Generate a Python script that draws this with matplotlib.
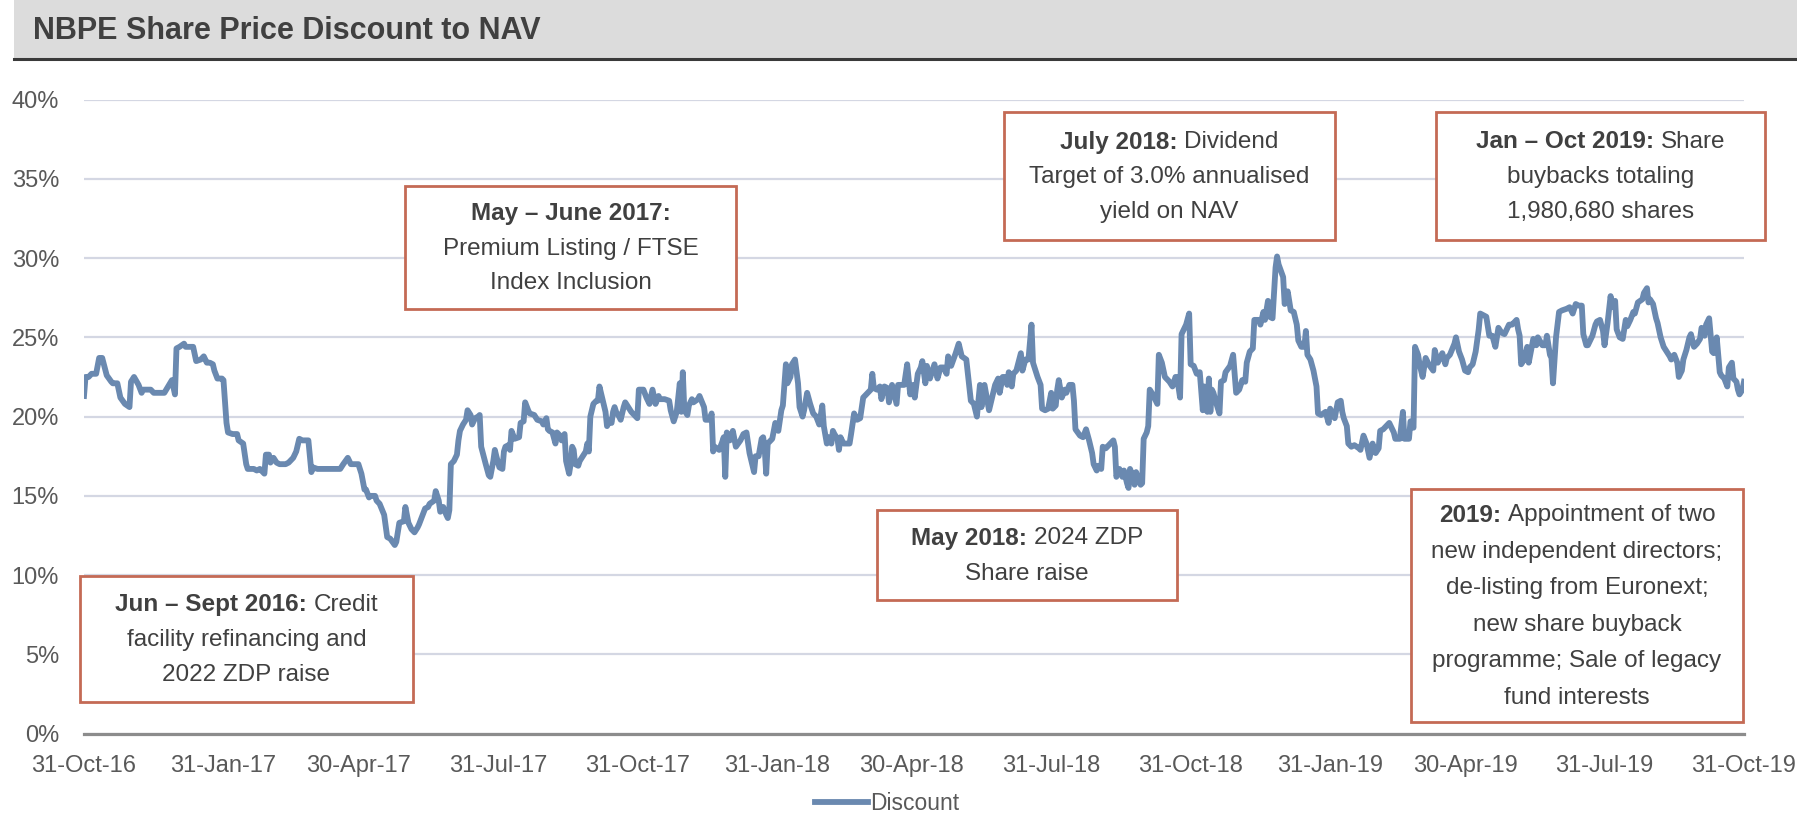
import numpy as np
import pandas as pd
import matplotlib
matplotlib.use("Agg")
import matplotlib.pyplot as plt
import matplotlib.dates as mdates
from matplotlib.patches import Rectangle
from matplotlib.lines import Line2D
from matplotlib.ticker import FuncFormatter, MultipleLocator

# ── Figure geometry (pixels of the output image) ──────────────────────────────
W, H, DPI = 1797, 814, 100
plt.rcParams["font.family"] = ["Liberation Sans", "DejaVu Sans"]

LINE_C = "#6A89B0"
BOX_C  = "#C46A55"
GRID_C = "#D4D7E3"
TXT_C  = "#404040"
TICK_C = "#595959"

# ── Data: (days since 31-Oct-2016, discount %) ─────────────────────────────────
START = pd.Timestamp("2016-10-31")

seg_a = [(0,21.3),(1,22.5),(3,22.5),(5,22.7),(8,22.7),(10,23.7),(12,23.7),(15,22.6),(18,22.2),(19,22.1),
         (22,22.1),(24,21.2),(27,20.8),(30,20.6),(31,22.2),(33,22.5),(36,22.0),(38,21.5),(39,21.7),(44,21.7),
         (46,21.5),(53,21.5),(58,22.3),(60,21.4),(61,24.3),(63,24.4),(66,24.6),(67,24.4),(72,24.4),(74,23.5),
         (77,23.6),(79,23.8),(81,23.4),(83,23.4),(85,23.3),(86,22.9),(88,22.4),(91,22.4),(92,22.3),(94,19.6),
         (95,19.0),(98,18.9),(101,18.9),(102,18.5),(105,18.3),(107,17.0),(108,16.7),(112,16.7),(114,16.6),(116,16.7),
         (118,16.5),(119,16.4),(120,17.6),(122,17.6),(123,17.1),(125,17.4),(127,17.1),(129,17.0),(133,17.0),(135,17.1),
         (138,17.4),(140,17.8),(142,18.6),(144,18.5),(148,18.5),(150,16.5),(151,16.8),(154,16.7),(156,16.7),(169,16.7),
         (171,17.0),(174,17.4),(176,17.0),(181,17.0),(183,16.4)]

seg_b = [(185,15.4),(186,15.4),(188,14.9),(189,15.0),(192,15.0),(193,14.7),(195,14.5),(198,13.8),(200,12.4),(202,12.3),
         (205,11.9),(206,12.1),(208,13.3),(211,13.4),(212,14.3),(214,13.3),(216,12.9),(218,12.7),(220,13.0),(221,13.2),
         (223,13.7),(225,14.2),(227,14.3),(228,14.5),(231,14.7),(232,15.3),(234,14.7),(235,14.0),(237,14.3),(239,13.8),
         (240,13.6),(241,14.1),(242,17.0),(244,17.2),(246,17.6),(247,18.5),(248,19.1),(250,19.5),(252,19.8),(253,20.4),
         (255,20.1),(256,19.5),(258,19.9),(260,20.0),(261,20.1),(262,18.1),(265,17.0),(267,16.3),(268,16.2),(270,17.2),
         (271,17.9),(272,17.5),(274,16.8),(276,16.7),(277,17.8),(278,18.1),(280,18.2),(281,17.9),(282,19.1),(284,18.6),
         (287,18.7),(288,19.6),(290,19.7),(291,20.9),(293,20.4),(294,20.2),(297,20.1),(299,19.8),(302,19.7),(303,19.5),
         (305,19.9),(306,19.2),(307,19.1),(309,19.0),(311,18.3),(312,19.0),(314,18.8),(315,18.5),(317,18.9),(318,17.2),
         (320,16.4),(321,17.0),(322,18.1),(323,17.9),(324,17.0),(326,16.9),(327,17.2),(329,17.5),(331,17.8),(332,18.3),
         (333,17.8),(334,20.0),(336,20.8),(338,21.0),(339,21.0),(340,21.9),(342,21.1),(344,20.3),(345,19.4),(347,19.8),
         (348,19.6),(349,20.3),(350,20.6),(351,20.3),(353,20.0),(354,19.8),(356,20.6),(357,20.9),(359,20.6),(361,20.3),
         (362,20.2),(365,19.9),(366,21.7)]

seg_c = [(369,21.7),(371,21.2),(373,20.8),(375,21.7),(377,20.8),(379,21.3),(380,21.1),(383,21.1),(386,21.0),(387,20.4),
         (389,19.7),(391,20.3),(393,22.1),(394,20.3),(395,22.8),(396,20.4),(398,20.1),(399,20.7),(401,21.1),(402,20.9),
         (405,21.1),(406,21.3),(409,20.6),(410,19.8),(413,19.8),(414,20.2),(415,17.8),(416,18.1),(419,17.9),(421,18.4),
         (422,18.7),(423,16.2),(424,19.0),(426,18.5),(428,19.1),(430,18.1),(433,18.5),(435,18.9),(437,19.0),(439,17.7),
         (442,16.5),(443,17.5),(445,17.5),(447,18.6),(448,18.7),(449,18.0),(450,16.4),(451,18.3),(454,18.6),(456,19.6),
         (458,19.1),(460,20.4),(461,20.7),(463,23.3),(464,22.1),(466,22.5),(467,23.3),(469,23.6),(471,22.1),(472,20.6),
         (474,20.0),(475,20.4),(477,21.5),(479,20.8),(481,20.2),(483,20.0),(485,19.5),(487,20.7),(488,19.4),(490,18.3),
         (491,18.7),(493,18.3),(494,19.1),(495,18.9),(497,18.6),(498,17.9),(499,18.7),(501,18.3),(503,18.3),(505,18.3),
         (506,18.9),(508,20.2),(510,19.8),(512,19.9),(514,21.2),(516,21.4),(519,21.7),(520,22.7),(521,21.8),(523,21.7),
         (525,21.9),(526,21.1),(528,21.9),(530,21.8),(531,20.9),(533,22.0),(536,20.8),(537,22.0),(541,22.0),(543,23.3),
         (545,21.4),(547,22.0),(548,21.2),(550,22.7),(552,23.1)]

seg_d = [(553,23.5),(555,22.1),(556,23.2),(558,22.4),(561,23.3),(563,22.4),(565,23.1),(567,23.1),(569,22.7),(570,23.8),
         (572,23.2),(575,24.0),(577,24.6),(579,23.8),(582,23.6),(585,21.0),(587,20.8),(589,20.0),(591,22.0),(592,20.6),
         (594,22.0),(597,20.4),(599,21.2),(601,22.0),(603,22.4),(604,21.5),(606,22.5),(608,22.5),(609,22.0),(610,22.8),
         (612,21.9),(613,22.7),(615,22.9),(618,24.0),(619,22.9),(621,23.6),(623,23.6),(625,25.8),(626,23.4),(629,22.5),
         (631,22.0),(632,20.5),(634,20.4),(636,20.5),(638,21.5),(639,20.5),(641,20.7),(642,21.7),(643,22.3),(645,21.2),
         (647,21.7),(648,21.5),(650,22.0),(652,22.0),(653,21.0),(654,19.2),(657,18.8),(659,18.7),(661,19.2),(663,18.5),
         (665,17.7),(666,17.0),(668,16.6),(669,16.9),(671,16.7),(672,18.1),(674,18.0),(675,18.1),(677,18.3),(679,18.5),
         (680,18.1),(681,16.2),(683,16.7),(685,16.2),(686,16.6),(688,15.8),(689,15.5),(690,16.7),(692,16.2),(693,15.7),
         (694,16.5),(697,15.7),(698,15.8),(699,18.6),(701,19.0),(702,19.4),(703,21.7),(705,21.4),(708,20.8),(709,23.9),
         (711,23.4),(713,22.5),(714,22.4),(716,22.2),(718,21.9),(720,22.5),(721,22.5),(723,21.2),(724,25.2),(725,25.4),
         (727,25.8),(729,26.5),(730,23.3),(732,23.2),(734,22.7)]

seg_e = [(736,22.8),(738,20.4),(739,21.9),(741,20.3),(742,22.4),(743,20.3),(744,21.7),(745,21.5),(747,20.8),(749,20.2),
         (750,22.2),(752,22.3),(753,22.8),(756,23.2),(758,23.9),(760,21.5),(762,21.7),(764,22.3),(766,22.2),(767,23.4),
         (769,24.1),(771,24.3),(772,26.1),(775,26.1),(776,25.8),(778,26.6),(779,26.1),(781,27.3),(782,26.3),(784,26.2),
         (786,29.4),(787,30.1),(788,29.6),(791,28.8),(792,27.1),(794,27.9),(796,26.7),(798,26.6),(800,25.8),(801,24.8),
         (803,24.4),(805,24.4),(806,25.4),(807,23.9),(809,23.6),(811,22.9),(813,21.9),(814,20.2),(816,20.1),(819,20.3),
         (821,19.6),(822,20.5),(824,20.1),(825,19.9),(827,20.9),(829,21.0),(830,20.3),(831,19.9),(833,19.4),(834,18.3),
         (836,18.1),(838,18.2),(841,18.0),(842,17.9),(844,18.8),(846,18.3),(848,17.4),(850,18.3),(852,17.7),(854,18.0),
         (855,19.1),(857,19.2),(859,19.4),(861,19.6),(864,19.0),(865,18.6),(868,18.6),(870,20.3),(871,18.6),(874,18.6),
         (875,19.7),(877,19.3),(878,24.4),(880,23.9),(881,23.3),(883,22.5),(885,23.7),(887,23.3),(890,22.9),(891,24.2),
         (893,23.4),(894,23.6),(896,24.0),(898,23.3),(899,23.7),(901,23.9),(904,24.6),(905,25.0),(907,24.1),(909,23.6),
         (911,22.9),(913,22.8),(914,23.1),(916,23.3),(918,24.1),(920,25.5),(921,26.5)]

seg_f = [(923,26.4),(925,26.3),(927,25.1),(929,25.1),(931,24.4),(933,25.6),(935,25.3),(937,25.2),(940,25.8),(942,25.8),
         (945,26.1),(946,25.5),(947,25.1),(948,23.3),(950,23.6),(952,24.4),(953,23.4),(955,24.4),(956,24.9),(958,24.5),
         (959,25.0),(962,24.5),(964,24.5),(965,25.1),(967,23.9),(968,23.7),(969,22.1),(971,25.0),(973,26.6),(975,26.7),
         (978,26.8),(980,26.9),(982,26.5),(984,27.1),(986,27.0),(988,27.0),(989,25.2),(991,24.5),(992,24.5),(995,25.1),
         (997,25.8),(998,26.0),(1000,26.1),(1002,25.4),(1003,24.5),(1005,25.9),(1007,27.6),(1008,26.9),(1010,27.3),(1011,25.5),
         (1013,25.0),(1015,24.9),(1017,26.1),(1018,25.7),(1020,26.1),(1022,26.6),(1023,26.5),(1025,27.2),(1028,27.4),(1029,27.8),
         (1031,28.1),(1032,27.2),(1033,27.4),(1035,27.1),(1037,26.2),(1038,25.9),(1040,25.0),(1042,24.4),(1044,24.1),(1046,23.8),
         (1047,23.6),(1049,23.9),(1051,23.4),(1052,22.5),(1054,22.9),(1055,23.6),(1057,24.2),(1059,25.0),(1060,25.2),(1062,24.4),
         (1064,24.6),(1066,24.9),(1067,25.6),(1069,25.1),(1070,25.8),(1072,26.2),(1074,24.1),(1075,24.0),(1077,25.0),(1079,22.8),
         (1080,22.6),(1082,22.4),(1084,21.9),(1085,23.1),(1087,23.4),(1088,22.4),(1090,22.2),(1091,21.7),(1092,21.4),(1094,21.7),
         (1095,22.2)]

tick_dates = ["2016-10-31", "2017-01-31", "2017-04-30", "2017-07-31", "2017-10-31", "2018-01-31", "2018-04-30",
              "2018-07-31", "2018-10-31", "2019-01-31", "2019-04-30", "2019-07-31", "2019-10-31"]

# annotation boxes: (left, top, right, bottom) in pixels, then text lines as [(text, bold), ...]
notes = [
    ((80, 576, 413, 702), [[("Jun – Sept 2016:", True), ("Credit", False)],
                           [("facility refinancing and", False)],
                           [("2022 ZDP raise", False)]]),
    ((405, 186, 736, 309), [[("May – June 2017:", True)],
                            [("Premium Listing / FTSE", False)],
                            [("Index Inclusion", False)]]),
    ((877, 510, 1177, 600), [[("May 2018:", True), ("2024 ZDP", False)],
                             [("Share raise", False)]]),
    ((1004, 112, 1335, 240), [[("July 2018:", True), ("Dividend", False)],
                              [("Target of 3.0% annualised", False)],
                              [("yield on NAV", False)]]),
    ((1436, 112, 1765, 240), [[("Jan – Oct 2019:", True), ("Share", False)],
                              [("buybacks totaling", False)],
                              [("1,980,680 shares", False)]]),
    ((1411, 489, 1743, 722), [[("2019:", True), ("Appointment of two", False)],
                              [("new independent directors;", False)],
                              [("de-listing from Euronext;", False)],
                              [("new share buyback", False)],
                              [("programme; Sale of legacy", False)],
                              [("fund interests", False)]]),
]

pts = seg_a + seg_b + seg_c + seg_d + seg_e + seg_f
days = np.array([p[0] for p in pts])
discount = np.array([p[1] for p in pts])
dates = START + pd.to_timedelta(days, unit="D")


def fx(x):
    return x / W


def fy(y):
    return 1 - y / H


fig = plt.figure(figsize=(W / DPI, H / DPI), dpi=DPI)
renderer = fig.canvas.get_renderer()

# ── Title bar ─────────────────────────────────────────────────────────────────
fig.patches.append(Rectangle((fx(14), fy(58)), 1 - fx(14), 58 / H, transform=fig.transFigure,
                             facecolor="#DCDCDC", edgecolor="none", zorder=0))
fig.lines.append(Line2D([fx(14), 1], [fy(59), fy(59)], transform=fig.transFigure,
                        color="#3A3A3A", lw=2.2))
fig.text(fx(33), fy(31), "NBPE Share Price Discount to NAV", fontsize=22, fontweight="bold",
         color=TXT_C, va="center", ha="left")

# ── Main axes ─────────────────────────────────────────────────────────────────
ax = fig.add_axes([fx(84), fy(733.7), fx(1744) - fx(84), (733.7 - 99.5) / H])
ax.plot(dates, discount, color=LINE_C, lw=4.2, solid_joinstyle="round", label="Discount", zorder=3)

ax.set_ylim(0, 40)
ax.set_xlim(pd.Timestamp(tick_dates[0]), pd.Timestamp(tick_dates[-1]))
ax.yaxis.set_major_locator(MultipleLocator(5))
ax.yaxis.set_major_formatter(FuncFormatter(lambda v, _: f"{v:.0f}%"))
ax.set_xticks(pd.to_datetime(tick_dates))
ax.xaxis.set_major_formatter(mdates.DateFormatter("%d-%b-%y"))

ax.grid(axis="y", color=GRID_C, lw=1.6)
ax.set_axisbelow(True)
for side in ["top", "right", "left"]:
    ax.spines[side].set_visible(False)
ax.spines["bottom"].set_color("#8C8C8C")
ax.spines["bottom"].set_linewidth(2.3)
ax.tick_params(axis="both", length=0, labelsize=17, labelcolor=TICK_C)
ax.tick_params(axis="y", pad=18)
ax.tick_params(axis="x", pad=15)

ax.legend(loc="center", bbox_to_anchor=(fx(887), fy(804)), bbox_transform=fig.transFigure,
          frameon=False, fontsize=16.5, handlelength=2.3, handletextpad=0.1,
          labelcolor=TICK_C)

# ── Annotation boxes ──────────────────────────────────────────────────────────
FS = 17.5
space_w = (fig.text(0, 0, "x x", fontsize=FS).get_window_extent(renderer).width
           - fig.text(0, 0, "xx", fontsize=FS).get_window_extent(renderer).width)
for t in fig.texts[-2:]:
    t.remove()


def rich_line(cx, cy, parts):
    objs = [fig.text(0, fy(cy), s, fontsize=FS, fontweight="bold" if b else "normal",
                     color=TXT_C, va="center", ha="left", zorder=5) for s, b in parts]
    widths = [o.get_window_extent(renderer).width for o in objs]
    total = sum(widths) + space_w * (len(objs) - 1)
    x = cx - total / 2
    for o, w in zip(objs, widths):
        o.set_x(fx(x))
        x += w + space_w


for (l, t, r, b), lines in notes:
    fig.patches.append(Rectangle((fx(l), fy(b)), fx(r) - fx(l), (b - t) / H, transform=fig.transFigure,
                                 facecolor="white", edgecolor=BOX_C, lw=2.0, zorder=4))
    n = len(lines)
    step = 36.5 if n > 3 else 35
    mid = (t + b) / 2 + 1
    for i, parts in enumerate(lines):
        rich_line((l + r) / 2, mid + (i - (n - 1) / 2) * step, parts)

fig.savefig("out.png", dpi=DPI)
